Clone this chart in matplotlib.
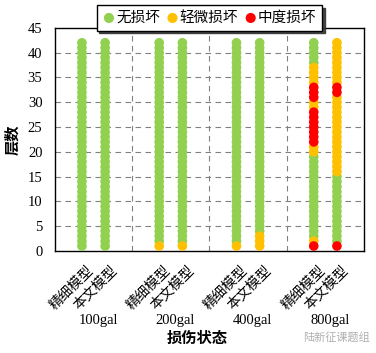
import matplotlib.pyplot as plt
import matplotlib.transforms as mtransforms
import numpy as np

plt.rcParams['font.family'] = ['Liberation Serif', 'Noto Sans CJK SC']

stories = np.arange(1, 43)
groups = ['100gal', '200gal', '400gal', '800gal']
models = ['精细模型', '本文模型']
levels = ['无损坏', '轻微损坏', '中度损坏']
colors = ['#92D050', '#FFC000', '#FF0000']

# damage segments per column: (from story, to story, level 0/1/2)
seg_100_fine = [(1, 42, 0)]
seg_100_ours = [(1, 42, 0)]
seg_200_fine = [(1, 1, 1), (2, 42, 0)]
seg_200_ours = [(1, 1, 1), (2, 42, 0)]
seg_400_fine = [(1, 1, 1), (2, 42, 0)]
seg_400_ours = [(1, 3, 1), (4, 42, 0)]
seg_800_fine = [(1, 1, 2), (2, 2, 1), (3, 19, 0), (20, 21, 1), (22, 28, 2),
                (29, 30, 1), (31, 33, 2), (34, 37, 1), (38, 42, 0)]
seg_800_ours = [(1, 1, 2), (2, 15, 0), (16, 31, 1), (32, 33, 2), (34, 42, 1)]

columns = [seg_100_fine, seg_100_ours, seg_200_fine, seg_200_ours,
           seg_400_fine, seg_400_ours, seg_800_fine, seg_800_ours]

fig = plt.figure(figsize=(3.76, 3.53), dpi=100)
ax = fig.add_axes([0.146, 0.289, 0.822, 0.632])

xpos = []
for gi in range(len(groups)):
    xpos += [2 * gi + 0.7, 2 * gi + 1.3]

for lv in range(3):
    xs, ys = [], []
    for x, segs in zip(xpos, columns):
        state = np.zeros(len(stories), dtype=int)
        for a, b, l in segs:
            state[(stories >= a) & (stories <= b)] = l
        sel = stories[state == lv]
        xs += [x] * len(sel)
        ys += list(sel)
    ax.scatter(xs, ys, s=48, color=colors[lv], edgecolors='none',
               label=levels[lv], zorder=3 + lv)

ax.set_xlim(0, 8)
ax.set_ylim(0, 45)
ax.set_yticks(range(0, 46, 5))
ax.tick_params(axis='y', length=0, labelsize=10.5, pad=9)
ax.set_xticks(xpos)
ax.set_xticklabels(models * 4, rotation=45, ha='right', rotation_mode='anchor',
                   fontsize=10)
ax.tick_params(axis='x', length=0, pad=9)
shift = mtransforms.ScaledTranslation(5 / 100, 0, fig.dpi_scale_trans)
for lab in ax.get_xticklabels():
    lab.set_transform(lab.get_transform() + shift)
for v in range(5, 45, 5):
    ax.axhline(v, color='#808080', ls=(0, (5, 4)), lw=0.8, zorder=1)
for v in [2, 4, 6]:
    ax.axvline(v, color='#808080', ls=(0, (5, 4)), lw=0.8, zorder=1)
for sp in ax.spines.values():
    sp.set_linewidth(1.0)

trans = mtransforms.blended_transform_factory(ax.transData, fig.transFigure)
for gi, g in enumerate(groups):
    ax.text(2 * gi + 1.12, 0.091, g, transform=trans, ha='center', va='center',
            fontsize=10.5)

ax.set_ylabel('层数', fontsize=11, fontweight='bold', labelpad=5)
fig.text(0.525, 0.040, '损伤状态', ha='center', va='center', fontsize=11,
         fontweight='bold')
fig.text(0.895, 0.045, '陆新征课题组', ha='center', va='center', fontsize=8,
         color='#b0b0b0')

leg = ax.legend(loc='center', bbox_to_anchor=(0.5, 1.045), ncol=3, fontsize=10.5,
                handletextpad=0.05, columnspacing=0.4, handlelength=0.9,
                borderpad=0.4, fancybox=False, edgecolor='k', framealpha=1,
                shadow={'color': '#333333', 'alpha': 0.9, 'ox': 2, 'oy': -2},
                markerscale=1.05)
leg.get_frame().set_linewidth(1.0)
leg.set_zorder(10)

fig.savefig('out.png', dpi=100)
